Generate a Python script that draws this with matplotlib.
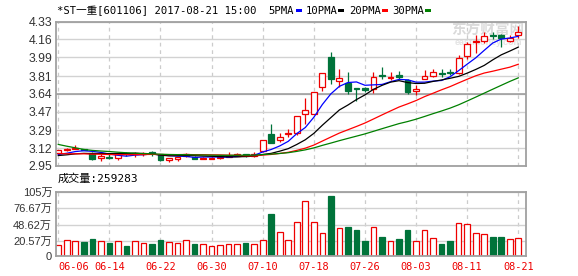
import numpy as np
import pandas as pd
import matplotlib
matplotlib.use('Agg')
import matplotlib.pyplot as plt
from matplotlib.patches import Rectangle

# 交易日 (2017)
dates = ['06-06', '06-07', '06-08', '06-09', '06-12', '06-13', '06-14', '06-15', '06-16',
         '06-19', '06-20', '06-21', '06-22', '06-23', '06-26', '06-27', '06-28', '06-29',
         '06-30', '07-03', '07-04', '07-05', '07-06', '07-07', '07-10', '07-11', '07-12',
         '07-13', '07-14', '07-17', '07-18', '07-19', '07-20', '07-21', '07-24', '07-25',
         '07-26', '07-27', '07-28', '07-31', '08-01', '08-02', '08-03', '08-04', '08-07',
         '08-08', '08-09', '08-10', '08-11', '08-14', '08-15', '08-16', '08-17', '08-18',
         '08-21']

opens = [3.07, 3.10, 3.11, 3.11, 3.07, 3.03, 3.04, 3.03, 3.07, 3.06, 3.06, 3.08, 3.06, 3.01,
         3.02, 3.05, 3.04, 3.02, 3.02, 3.03, 3.04, 3.05, 3.06, 3.05, 3.09, 3.26, 3.20, 3.26,
         3.27, 3.45, 3.45, 3.71, 3.99, 3.76, 3.74, 3.70, 3.70, 3.69, 3.82, 3.79, 3.82, 3.77,
         3.67, 3.78, 3.81, 3.84, 3.85, 3.84, 4.00, 4.14, 4.15, 4.20, 4.20, 4.15, 4.20]
highs = [3.10, 3.12, 3.15, 3.11, 3.08, 3.06, 3.06, 3.07, 3.08, 3.08, 3.08, 3.09, 3.06, 3.03,
         3.04, 3.07, 3.05, 3.04, 3.04, 3.04, 3.08, 3.07, 3.06, 3.08, 3.20, 3.35, 3.27, 3.30,
         3.43, 3.60, 3.66, 3.84, 4.04, 3.88, 3.85, 3.70, 3.71, 3.85, 3.90, 3.85, 3.86, 3.78,
         3.72, 3.87, 3.88, 3.88, 3.88, 4.01, 4.14, 4.20, 4.23, 4.23, 4.21, 4.20, 4.29]
lows = [3.06, 3.09, 3.11, 3.10, 3.01, 3.00, 3.02, 3.01, 3.05, 3.04, 3.05, 3.05, 3.00, 2.99,
        3.00, 3.04, 3.02, 3.02, 3.02, 3.02, 3.04, 3.05, 3.04, 3.04, 3.08, 3.17, 3.18, 3.23,
        3.25, 3.35, 3.45, 3.67, 3.73, 3.71, 3.64, 3.57, 3.66, 3.65, 3.78, 3.77, 3.78, 3.64,
        3.63, 3.78, 3.80, 3.80, 3.82, 3.83, 3.97, 4.03, 4.13, 4.16, 4.09, 4.14, 4.17]
closes = [3.10, 3.11, 3.12, 3.10, 3.02, 3.05, 3.03, 3.06, 3.06, 3.07, 3.07, 3.07, 3.01, 3.03,
          3.04, 3.06, 3.02, 3.03, 3.03, 3.04, 3.05, 3.06, 3.05, 3.06, 3.20, 3.17, 3.23, 3.27,
          3.43, 3.49, 3.66, 3.84, 3.78, 3.79, 3.67, 3.69, 3.68, 3.80, 3.81, 3.80, 3.80, 3.66,
          3.69, 3.81, 3.85, 3.83, 3.84, 3.98, 4.12, 4.15, 4.19, 4.19, 4.17, 4.17, 4.23]
# 成交量 (万手)
volumes = [13.2, 21.7, 20.6, 18.9, 24.0, 20.6, 17.1, 20.6, 12.0, 20.6, 17.1, 16.0, 22.3, 18.9,
           17.1, 21.7, 15.4, 15.4, 12.0, 13.2, 15.4, 15.4, 17.7, 16.0, 21.7, 67.4, 36.0, 21.7,
           53.1, 88.5, 52.5, 33.7, 97.6, 42.2, 44.5, 39.4, 20.6, 44.0, 27.4, 20.0, 24.0, 39.4,
           20.0, 38.8, 25.1, 15.4, 20.6, 50.8, 49.1, 33.7, 32.0, 27.4, 27.4, 23.4, 25.93]
# 06-06 之前的收盘价 (图外, 估计值, 只用来算均线起点)
prev_closes = [3.62, 3.58, 3.57, 3.30, 3.22, 3.18, 3.25, 3.22, 3.20, 3.17, 3.15, 3.13,
               3.10, 3.08, 3.07, 3.09, 3.06, 3.07, 3.08, 3.05, 3.04, 3.03, 3.05, 3.04,
               3.04, 3.05, 3.04, 3.06, 3.05]

price_ticks = [2.95, 3.12, 3.29, 3.47, 3.64, 3.81, 3.99, 4.16, 4.33]
vol_ticks = [20.57, 48.62, 76.67, 105]
vol_labels = ['20.57万', '48.62万', '76.67万', '105万']
last_volume = 259283

ma_periods = [5, 10, 20, 30]
ma_colors = ['#0000ff', '#000000', '#ff0000', '#008000']

RED = '#ee0000'
GREEN = '#00733a'
GRID = '#d2d2d2'
FRAME = '#a0a0a0'
MONO = ['DejaVu Sans Mono', 'Noto Sans CJK SC']
SANS = ['Liberation Sans', 'Noto Sans CJK SC']
NARROW = ['Liberation Sans Narrow', 'Liberation Sans', 'Noto Sans CJK SC']

W, H = 578, 276
fig = plt.figure(figsize=(W / 100, H / 100), dpi=100)


def box(l, t, r, b):
    return [l / W, 1 - b / H, (r - l) / W, (b - t) / H]


ax = fig.add_axes(box(55.7, 21.7, 525.7, 166))
axv = fig.add_axes(box(55.7, 191.7, 525.7, 256))

x = np.arange(len(closes))
all_close = pd.Series(prev_closes + closes)
n_prev = len(prev_closes)

# K线
bw = 0.68
for i in x:
    o, h, l, c = opens[i], highs[i], lows[i], closes[i]
    if c >= o:
        ax.vlines(i, c, h, color=RED, lw=0.9, zorder=2)
        ax.vlines(i, l, o, color=RED, lw=0.9, zorder=2)
        ax.add_patch(Rectangle((i - bw / 2, o), bw, max(c - o, 0.002), facecolor='white',
                               edgecolor=RED, lw=0.9, zorder=2))
    else:
        ax.vlines(i, l, h, color=GREEN, lw=0.9, zorder=2)
        ax.add_patch(Rectangle((i - bw / 2, c), bw, max(o - c, 0.002), facecolor=GREEN,
                               edgecolor=GREEN, lw=0.9, zorder=2))

# 均线
for n, col in zip(ma_periods, ma_colors):
    ma = all_close.rolling(n).mean().iloc[n_prev:].values
    ax.plot(x, ma, color=col, lw=0.9, zorder=3)

ax.set_xlim(-0.3, len(x) - 1 + 0.87)
ax.set_ylim(price_ticks[0], price_ticks[-1])
ax.set_yticks(price_ticks)
ax.set_yticklabels(['%.2f' % t for t in price_ticks], fontsize=8.8, color='#333333',
                   family=SANS)
ax.set_xticks(x[::6])
ax.set_xticklabels([])
ax.tick_params(length=0, pad=2.5)
ax.set_axisbelow(True)
ax.yaxis.grid(True, color=GRID, lw=1)
ax.xaxis.grid(True, color='#cccccc', lw=0.9, ls=(0, (3, 3)))
ax.axhline(3.64, color='#999999', lw=1.1, zorder=1)
for s in ax.spines.values():
    s.set_color(FRAME)
    s.set_linewidth(1.3)

# 水印
ax.text(0.997, 0.94, '东方财富网', transform=ax.transAxes, ha='right', va='center',
        fontsize=10.5, fontweight='bold', color='#dadada', family=SANS, zorder=0.5)
ax.text(0.993, 0.855, 'eastmoney.com', transform=ax.transAxes, ha='right', va='center',
        fontsize=6.5, fontweight='bold', color='#e4e4e4', family=SANS, zorder=0.5)

# 成交量
vol_floor = -5.1
for i in x:
    v = volumes[i]
    if closes[i] >= opens[i]:
        axv.add_patch(Rectangle((i - 0.33, vol_floor), 0.66, v - vol_floor, facecolor='white',
                                edgecolor=RED, lw=0.9, zorder=2))
    else:
        axv.add_patch(Rectangle((i - 0.33, vol_floor), 0.66, v - vol_floor, facecolor=GREEN,
                                edgecolor=GREEN, lw=0.9, zorder=2))

axv.set_xlim(ax.get_xlim())
axv.set_ylim(vol_floor, vol_ticks[-1])
axv.set_yticks([vol_floor] + vol_ticks)
axv.set_yticklabels(['0'] + vol_labels, fontsize=8.0, color='#333333', family=NARROW)
axv.set_xticks(x[::6])
xlabels = axv.set_xticklabels([dates[i] for i in x[::6]], fontsize=7.4, color=RED,
                              family=MONO)
xlabels[0].set_horizontalalignment('left')  # 第一个标签贴着左边
axv.tick_params(length=0, pad=2.5)
axv.tick_params(axis='x', pad=4)
axv.set_axisbelow(True)
axv.yaxis.grid(True, color=GRID, lw=1)
axv.xaxis.grid(True, color='#cccccc', lw=0.9, ls=(0, (3, 3)))
for s in axv.spines.values():
    s.set_color(FRAME)
    s.set_linewidth(1.3)

# 标题 & 图例
fig.text(57 / W, 1 - 11 / H, '*ST一重[601106] 2017-08-21 15:00', fontsize=7.6,
         family=MONO, va='center', ha='left')
legend_x = [268, 306, 349.3, 392.7]
square_x = [296, 338.3, 381.7, 425]
for n, col, tx, sx in zip(ma_periods, ma_colors, legend_x, square_x):
    fig.text(tx / W, 1 - 11 / H, '%dPMA' % n, fontsize=7.6, family=MONO, va='center',
             ha='left')
    fig.patches.append(Rectangle((sx / W, 1 - 11.8 / H), 5.8 / W, 2.6 / H, facecolor=col,
                                 edgecolor='none', transform=fig.transFigure))

fig.text(58 / W, 1 - 179 / H, '成交量:%d' % last_volume, fontsize=8.0, family=MONO,
         va='center', ha='left')

fig.savefig('out.png', dpi=100)
